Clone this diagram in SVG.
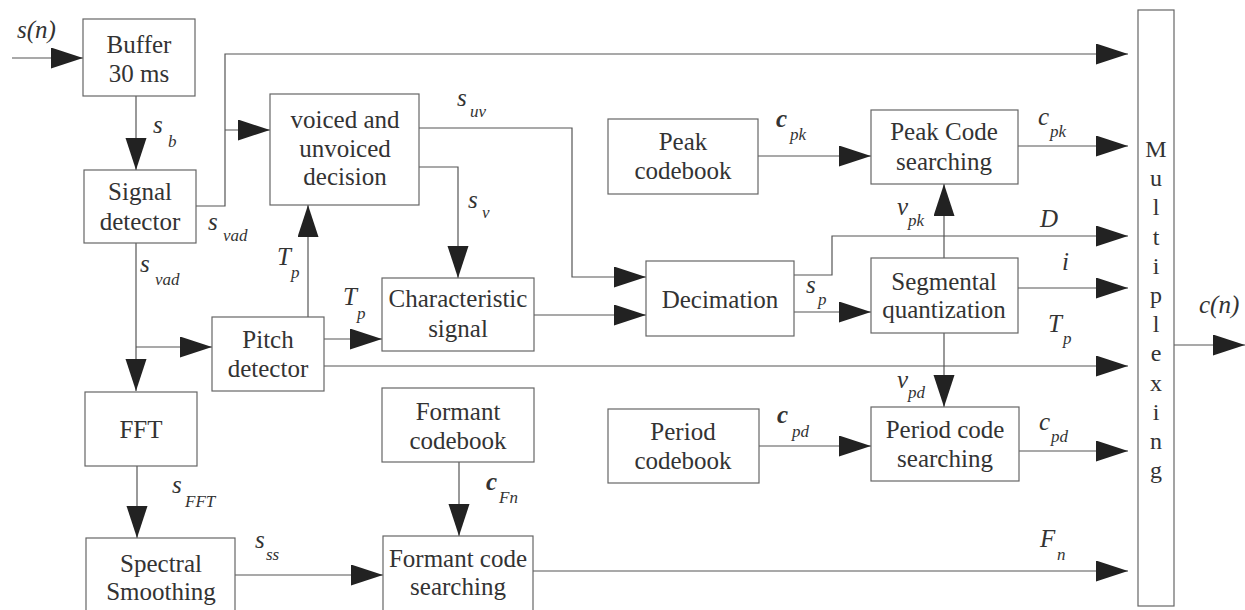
<svg xmlns="http://www.w3.org/2000/svg" width="1245" height="610" viewBox="0 0 1245 610" font-family="'Liberation Serif', 'DejaVu Serif', serif">
<style>
.box{fill:#fff;stroke:#666;stroke-width:1.2}
.t{font-size:25px;fill:#333;text-anchor:middle}
.m{font-size:24px}
.l{font-size:25px;font-style:italic;fill:#333}
.b{font-weight:bold}
.s{font-size:17px;font-weight:normal}
.c{fill:none;stroke:#555;stroke-width:1.2}
</style>
<defs>
<marker id="ah" markerUnits="userSpaceOnUse" markerWidth="34" markerHeight="22" refX="32" refY="10.5" orient="auto">
<path d="M0,0 L32,10.5 L0,21 z" fill="#222"/>
</marker>
</defs>
<rect width="1245" height="610" fill="#fff"/>
<g id="connectors">
<path class="c" d="M12,58 H83" marker-end="url(#ah)"/>
<path class="c" d="M136,96 V170" marker-end="url(#ah)"/>
<path class="c" d="M196,206 H225 V54 H1128" marker-end="url(#ah)"/>
<path class="c" d="M225,130 H270" marker-end="url(#ah)"/>
<path class="c" d="M136,243 V391" marker-end="url(#ah)"/>
<path class="c" d="M136,347 H212" marker-end="url(#ah)"/>
<path class="c" d="M308,317 V205" marker-end="url(#ah)"/>
<path class="c" d="M324,339 H382" marker-end="url(#ah)"/>
<path class="c" d="M324,366 H1128" marker-end="url(#ah)"/>
<path class="c" d="M419,128 H572 V277 H646" marker-end="url(#ah)"/>
<path class="c" d="M419,167 H458 V278" marker-end="url(#ah)"/>
<path class="c" d="M534,315 H646" marker-end="url(#ah)"/>
<path class="c" d="M794,275 H832 V236 H1128" marker-end="url(#ah)"/>
<path class="c" d="M794,312 H871" marker-end="url(#ah)"/>
<path class="c" d="M758,156 H871" marker-end="url(#ah)"/>
<path class="c" d="M1018,146 H1128" marker-end="url(#ah)"/>
<path class="c" d="M944,258 V184" marker-end="url(#ah)"/>
<path class="c" d="M1018,288 H1128" marker-end="url(#ah)"/>
<path class="c" d="M944,333 V407" marker-end="url(#ah)"/>
<path class="c" d="M759,446 H871" marker-end="url(#ah)"/>
<path class="c" d="M1019,451 H1128" marker-end="url(#ah)"/>
<path class="c" d="M137,466 V538" marker-end="url(#ah)"/>
<path class="c" d="M235,575 H383" marker-end="url(#ah)"/>
<path class="c" d="M459,462 V536" marker-end="url(#ah)"/>
<path class="c" d="M533,571 H1128" marker-end="url(#ah)"/>
<path class="c" d="M1174,345 H1245" marker-end="url(#ah)"/>
</g>
<g id="buffer"><rect class="box" x="83" y="19" width="112" height="77"/><text class="t" x="139" y="53">Buffer</text><text class="t" x="139" y="82">30 ms</text></g>
<g id="signal-detector"><rect class="box" x="84" y="170" width="112" height="73"/><text class="t" x="140" y="200">Signal</text><text class="t" x="140" y="230">detector</text></g>
<g id="vuv"><rect class="box" x="270" y="94" width="149" height="111"/><text class="t" x="345" y="128">voiced and</text><text class="t" x="345" y="157">unvoiced</text><text class="t" x="345" y="185">decision</text></g>
<g id="pitch"><rect class="box" x="212" y="317" width="112" height="74"/><text class="t" x="268" y="348">Pitch</text><text class="t" x="268" y="377">detector</text></g>
<g id="fft"><rect class="box" x="85" y="392" width="112" height="74"/><text class="t" x="141" y="438">FFT</text></g>
<g id="spectral"><rect class="box" x="86" y="538" width="149" height="80"/><text class="t" x="161" y="572">Spectral</text><text class="t" x="161" y="600">Smoothing</text></g>
<g id="characteristic"><rect class="box" x="382" y="278" width="152" height="73"/><text class="t" x="458" y="307">Characteristic</text><text class="t" x="458" y="337">signal</text></g>
<g id="decimation"><rect class="box" x="646" y="261" width="148" height="75"/><text class="t" x="720" y="308">Decimation</text></g>
<g id="peak-codebook"><rect class="box" x="608" y="119" width="150" height="75"/><text class="t" x="683" y="150">Peak</text><text class="t" x="683" y="179">codebook</text></g>
<g id="peak-search"><rect class="box" x="871" y="110" width="147" height="74"/><text class="t" x="944" y="140">Peak Code</text><text class="t" x="944" y="170">searching</text></g>
<g id="segmental"><rect class="box" x="871" y="258" width="147" height="75"/><text class="t" x="944" y="290">Segmental</text><text class="t" x="944" y="318">quantization</text></g>
<g id="formant-codebook"><rect class="box" x="382" y="388" width="152" height="74"/><text class="t" x="458" y="420">Formant</text><text class="t" x="458" y="449">codebook</text></g>
<g id="formant-search"><rect class="box" x="383" y="536" width="150" height="82"/><text class="t" x="458" y="567">Formant code</text><text class="t" x="458" y="595">searching</text></g>
<g id="period-codebook"><rect class="box" x="608" y="409" width="151" height="74"/><text class="t" x="683" y="440">Period</text><text class="t" x="683" y="469">codebook</text></g>
<g id="period-search"><rect class="box" x="871" y="407" width="148" height="74"/><text class="t" x="945" y="438">Period code</text><text class="t" x="945" y="467">searching</text></g>
<g id="mux"><rect class="box" x="1138" y="10" width="36" height="596"/>
<text class="t m" x="1156" y="157">M</text>
<text class="t m" x="1156" y="186">u</text>
<text class="t m" x="1156" y="215">l</text>
<text class="t m" x="1156" y="245">t</text>
<text class="t m" x="1156" y="274">i</text>
<text class="t m" x="1156" y="303">p</text>
<text class="t m" x="1156" y="332">l</text>
<text class="t m" x="1156" y="361">e</text>
<text class="t m" x="1156" y="391">x</text>
<text class="t m" x="1156" y="420">i</text>
<text class="t m" x="1156" y="449">n</text>
<text class="t m" x="1156" y="478">g</text>
</g>
<g id="labels">
<text class="l" x="17" y="38">s(n)</text>
<text class="l" x="153" y="133">s<tspan class="s" x="168" y="147">b</tspan></text>
<text class="l" x="208" y="230">s<tspan class="s" x="223" y="241">vad</tspan></text>
<text class="l" x="140" y="272">s<tspan class="s" x="155" y="285">vad</tspan></text>
<text class="l" x="277" y="265">T<tspan class="s" x="291" y="278">p</tspan></text>
<text class="l" x="343" y="305">T<tspan class="s" x="357" y="319">p</tspan></text>
<text class="l" x="457" y="106">s<tspan class="s" x="470" y="117">uv</tspan></text>
<text class="l" x="468" y="208">s<tspan class="s" x="482" y="218">v</tspan></text>
<text class="l b" x="776" y="127">c<tspan class="s" x="790" y="140">pk</tspan></text>
<text class="l" x="806" y="293">s<tspan class="s" x="818" y="305">p</tspan></text>
<text class="l" x="1038" y="125">c<tspan class="s" x="1050" y="137">pk</tspan></text>
<text class="l" x="897" y="215">v<tspan class="s" x="908" y="226">pk</tspan></text>
<text class="l" x="1040" y="227">D</text>
<text class="l" x="1062" y="270">i</text>
<text class="l" x="1048" y="332">T<tspan class="s" x="1063" y="344">p</tspan></text>
<text class="l" x="1199" y="313">c(n)</text>
<text class="l" x="897" y="388">v<tspan class="s" x="908" y="398">pd</tspan></text>
<text class="l" x="1039" y="430">c<tspan class="s" x="1051" y="442">pd</tspan></text>
<text class="l" x="1040" y="547">F<tspan class="s" x="1057" y="560">n</tspan></text>
<text class="l b" x="777" y="423">c<tspan class="s" x="792" y="437">pd</tspan></text>
<text class="l b" x="486" y="490">c<tspan class="s" x="499" y="503">Fn</tspan></text>
<text class="l" x="172" y="493">s<tspan class="s" x="185" y="507">FFT</tspan></text>
<text class="l" x="255" y="548">s<tspan class="s" x="266" y="560">ss</tspan></text>
</g>
</svg>
